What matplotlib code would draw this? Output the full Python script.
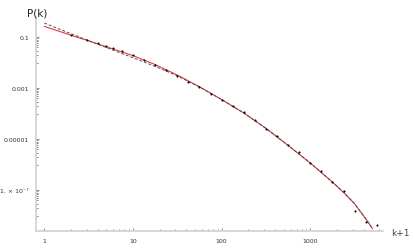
import matplotlib
matplotlib.use("Agg")
import matplotlib.pyplot as plt
from matplotlib.ticker import FixedLocator, FixedFormatter, NullFormatter

# binned degree distribution (k+1, P(k))
k1 = [2, 3, 4, 5, 6, 7.5, 10, 13.3, 17.8, 23.7, 31.6, 42.2, 56.2, 75, 100,
      133, 178, 237, 316, 422, 562, 750, 1000, 1334, 1778, 2371, 3162, 4217, 5623]
pk = [0.127, 0.0807, 0.0579, 0.047, 0.0369, 0.0282, 0.0196, 0.0129, 0.00845,
      0.00522, 0.00295, 0.00182, 0.0011, 6.17e-4, 3.48e-4, 1.96e-4, 1.15e-4,
      5.55e-5, 2.61e-5, 1.31e-5, 5.79e-6, 3.27e-6, 1.15e-6, 5.55e-7, 2.19e-7,
      9.8e-8, 1.5e-8, 5.9e-9, 4.4e-9]

# fitted curves
fit_x = [1, 1.78, 3.16, 5.62, 10, 17.8, 31.6, 56.2, 100, 178, 316, 562,
         1000, 1778, 2371, 3162, 4217, 5000]
fit_red = [0.269, 0.138, 0.0724, 0.0372, 0.0191, 0.00851, 0.00331, 0.00115,
           3.63e-4, 1.07e-4, 2.69e-5, 5.75e-6, 1.17e-6, 2.09e-7, 8.3e-8,
           2.95e-8, 7.6e-9, 3.24e-9]
fit_gray = [0.363, 0.162, 0.0741, 0.0339, 0.0158, 0.00724, 0.00309, 0.00112,
            3.63e-4, 1.07e-4, 2.69e-5, 5.75e-6, 1.17e-6, 2.09e-7, 8.3e-8,
            2.95e-8, 7.6e-9, 3.24e-9]

y_major = [1e-1, 1e-3, 1e-5, 1e-7]
y_labels = ["0.1", "0.001", "0.00001", "1. \u00d7 10\u207b\u2077"]
x_major = [1, 10, 100, 1000]
x_labels = ["1", "10", "100", "1000"]

W, H = 415, 253
fig = plt.figure(figsize=(W / 100, H / 100), dpi=100)
ax = fig.add_axes([36 / W, 21 / H, 347 / W, 214 / H])

ax.plot(fit_x, fit_red, color="#e8383d", lw=0.8, zorder=2)
ax.plot(fit_x, fit_gray, color="#505050", lw=0.7, dashes=(3, 2), zorder=3)
ax.plot(k1, pk, "o", color="black", ms=1.5, mew=0, zorder=4)

ax.set_xscale("log")
ax.set_yscale("log")
ax.set_xlim(0.806, 6600)
ax.set_ylim(10 ** -8.596, 10 ** -0.204)

for s in ["top", "right"]:
    ax.spines[s].set_visible(False)
for s in ["left", "bottom"]:
    ax.spines[s].set_color("#d4d4d4")
    ax.spines[s].set_linewidth(1.3)

ax.xaxis.set_major_locator(FixedLocator(x_major))
ax.xaxis.set_major_formatter(FixedFormatter(x_labels))
ax.xaxis.set_minor_locator(FixedLocator([j * 10 ** d for d in range(4) for j in range(2, 10)]))
ax.xaxis.set_minor_formatter(NullFormatter())

ax.yaxis.set_major_locator(FixedLocator(y_major))
ax.yaxis.set_major_formatter(FixedFormatter(y_labels))
ax.yaxis.set_minor_locator(FixedLocator([m * j / 10 for m in y_major + [1e-9] for j in range(1, 10)]))
ax.yaxis.set_minor_formatter(NullFormatter())

ax.tick_params(which="both", direction="in", color="#555555", width=0.5,
               labelsize=4.5, labelcolor="#333333")
ax.tick_params(which="major", length=2.5)
ax.tick_params(which="minor", length=1.3)
ax.tick_params(axis="x", pad=5)
ax.tick_params(axis="y", pad=5)

fig.text(37 / W, 1 - 13 / H, "P(k)", ha="center", va="center", fontsize=7.5, color="#222222")
fig.text(400 / W, 1 - 234 / H, "k+1", ha="center", va="center", fontsize=6.5, color="#444444")

fig.savefig("out.png", dpi=100)
